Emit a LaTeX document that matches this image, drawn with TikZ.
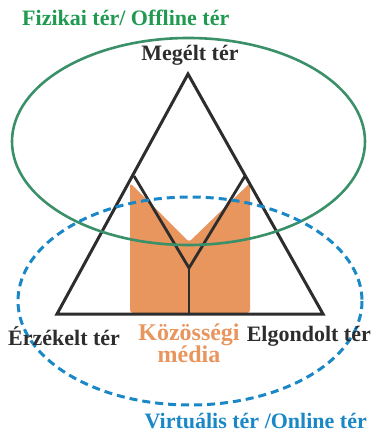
\documentclass[tikz,border=0pt]{standalone}
\usepackage{fontspec}
\setmainfont{Liberation Serif}
\usepackage{xcolor}
\usepackage{tikz}

\definecolor{fizgreen}{HTML}{1F9A50}
\definecolor{ellgreen}{HTML}{3A9068}
\definecolor{virtblue}{HTML}{1A87C6}
\definecolor{kozorange}{HTML}{E8955E}
\definecolor{darkline}{HTML}{2D2D2D}

\begin{document}
\begin{tikzpicture}[
    x=1pt, y=-1pt,
    lbl/.style={inner sep=0pt, font=\fontsize{22}{24}\selectfont\bfseries},
    side/.style={draw=darkline, line width=3pt, line join=miter},
    ybranch/.style={draw=darkline, line width=2.8pt}
]
    \useasboundingbox (0,0) rectangle (378,433);

    % triangle corners and the inner Y
    \coordinate (apex) at (188,74);
    \coordinate (baseL) at (57,314);
    \coordinate (baseR) at (323,314);
    \coordinate (forkL) at (134,176);
    \coordinate (forkR) at (245,176);
    \coordinate (fork) at (189,268);
    \coordinate (foot) at (189,314);

    % social media block
    \fill[kozorange, rounded corners=3pt] (130,183) -- (189,242) -- (250,183) -- (250,313) -- (130,313) -- cycle;

    \draw[side] (apex) -- (baseL) -- (baseR) -- cycle;
    \draw[ybranch] (forkL) -- (fork) -- (forkR);
    \draw[ybranch] (fork) -- (foot);

    % the two spaces
    \draw[ellgreen, line width=2.6pt] (188.5,141.5) ellipse [x radius=176.5, y radius=103.5];
    \draw[virtblue, line width=3pt, dash pattern=on 8pt off 5pt] (190,301) ellipse [x radius=172, y radius=104];

    \node[lbl, text=fizgreen, anchor=west] (fizikai) at (22,18) {Fizikai tér/ Offline tér};
    \node[lbl, text=darkline] (megelt) at (190,55) {Megélt tér};
    \node[lbl, text=darkline, anchor=west] (erzekelt) at (8,336) {Érzékelt tér};
    \node[lbl, text=darkline, anchor=east] (elgondolt) at (371,336) {Elgondolt tér};
    \node[lbl, text=kozorange, align=center, font=\fontsize{24}{22}\selectfont\bfseries] (kozossegi) at (189,343) {Közösségi\\média};
    \node[lbl, text=virtblue, anchor=east] (virtualis) at (367,421) {Virtuális tér /Online tér};
\end{tikzpicture}
\end{document}
